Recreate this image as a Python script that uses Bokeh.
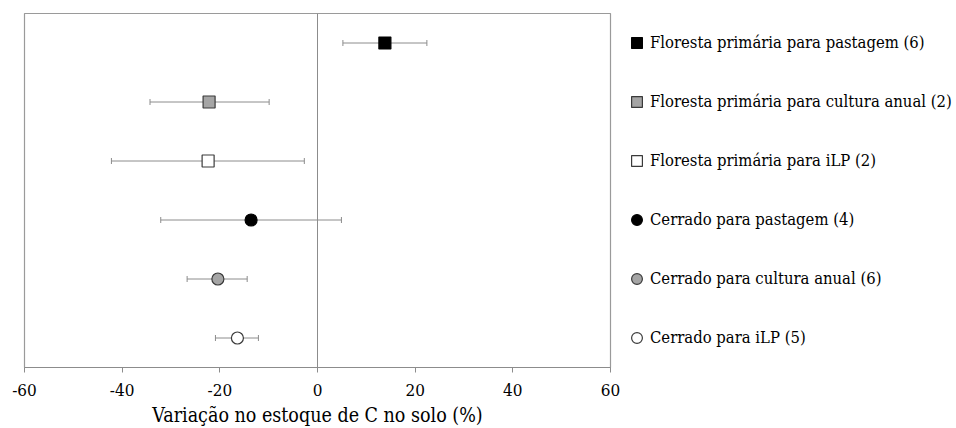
from bokeh.plotting import figure
from bokeh.models import (ColumnDataSource, Whisker, TeeHead, Span, Range1d,
                          Legend, LegendItem, FixedTicker)
from bokeh.embed import file_html
from bokeh.resources import INLINE

# ---- data ----
labels = [
    "Floresta primária para pastagem (6)",
    "Floresta primária para cultura anual (2)",
    "Floresta primária para iLP (2)",
    "Cerrado para pastagem (4)",
    "Cerrado para cultura anual (6)",
    "Cerrado para iLP (5)",
]
means = [13.8, -22.2, -22.4, -13.6, -20.4, -16.4]
lower = [5.2, -34.3, -42.2, -32.1, -26.7, -20.9]
upper = [22.4, -9.9, -2.7, 4.9, -14.4, -12.1]
x_ticks = [-60, -40, -20, 0, 20, 40, 60]
axis_title = "Variação no estoque de C no solo (%)"

# ---- styles ----
markers = ["square", "square", "square", "circle", "circle", "circle"]
fills = ["#000000", "#a5a5a5", "#ffffff", "#000000", "#a5a5a5", "#ffffff"]
outlines = ["#000000", "#3a3a3a", "#3a3a3a", "#000000", "#3a3a3a", "#3a3a3a"]
GRAY = "#8c8c8c"
FONT = "DejaVu Serif Condensed"

n = len(labels)
ypos = [n - i for i in range(n)]

p = figure(frame_width=586, frame_height=354,
           x_range=Range1d(-60, 60), y_range=Range1d(0.5, n + 0.5),
           toolbar_location=None, output_backend="svg",
           y_axis_location=None,
           min_border_left=24, min_border_top=13, min_border_right=0,
           min_border_bottom=0)
p.grid.visible = False
p.outline_line_color = "#9a9a9a"
p.outline_line_width = 1.2

# zero line
p.add_layout(Span(location=0, dimension="height", line_color=GRAY, line_width=1))

# error bars
src = ColumnDataSource(dict(y=ypos, lower=lower, upper=upper))
wh = Whisker(source=src, base="y", lower="lower", upper="upper", dimension="width",
             line_color=GRAY, line_width=1,
             upper_head=TeeHead(size=6, line_color=GRAY, line_width=1),
             lower_head=TeeHead(size=6, line_color=GRAY, line_width=1))
p.add_layout(wh)

items = []
for i in range(n):
    r = p.scatter(x=[means[i]], y=[ypos[i]], marker=markers[i], size=12,
                  fill_color=fills[i], line_color=outlines[i], line_width=1.2)
    items.append(LegendItem(label=labels[i], renderers=[r]))

legend = Legend(items=items, location=(13, 16), orientation="vertical",
                border_line_color=None, background_fill_alpha=0,
                margin=0, padding=0, spacing=32,
                glyph_width=27, glyph_height=27, label_height=27,
                label_standoff=-3,
                label_text_font=FONT, label_text_font_size="16.5px",
                label_text_color="black")
p.add_layout(legend, "right")

ax = p.xaxis[0]
ax.ticker = FixedTicker(ticks=x_ticks)
ax.major_label_overrides = {t: str(t) for t in x_ticks}
ax.axis_line_color = GRAY
ax.major_tick_line_color = GRAY
ax.minor_tick_line_color = None
ax.major_tick_out = 5
ax.major_tick_in = 0
ax.major_label_text_font = FONT
ax.major_label_text_font_size = "17px"
ax.major_label_text_color = "black"
ax.major_label_standoff = 11
ax.axis_label = axis_title
ax.axis_label_text_font = FONT
ax.axis_label_text_font_size = "19.5px"
ax.axis_label_text_font_style = "normal"
ax.axis_label_text_color = "black"
ax.axis_label_standoff = 5

open("out.html", "w").write(file_html(p, INLINE))
